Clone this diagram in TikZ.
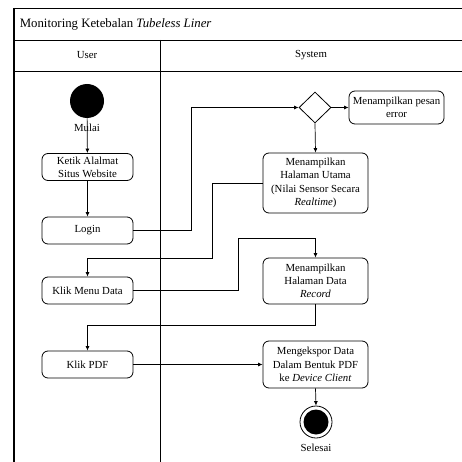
\documentclass[tikz,border=0pt]{standalone}
\usepackage{fontspec}
\setmainfont{Liberation Serif}
\usepackage{tikz}
\usetikzlibrary{arrows.meta,shapes.geometric}
\tikzset{>={Latex[width=4pt,length=4.5pt]}}
\tikzset{
  lane/.style={line width=0.8pt},
  userbox/.style={draw, rounded corners=6pt, line width=0.8pt, minimum width=91pt, minimum height=27pt, align=center, inner sep=1pt},
  sysbox/.style={draw, rounded corners=6pt, line width=0.8pt, minimum width=105pt, align=center, inner sep=1pt},
  flow/.style={->, line width=0.7pt}
}

\begin{document}
\begin{tikzpicture}[x=1pt, y=-1pt]

  \fontsize{10.8}{13.3}\selectfont

  \useasboundingbox (0,0) rectangle (462,462);

  % swimlanes
  \draw[line width=1.6pt] (14,8) -- (14,462);
  \draw[lane] (14,8) -- (462,8);
  \draw[lane] (14,40) -- (462,40);
  \draw[lane] (14,71) -- (462,71);
  \draw[lane] (160,40) -- (160,462);

  \node[anchor=west, font=\fontsize{12.8}{15}\selectfont] (title) at (16,24) {Monitoring Ketebalan \textit{Tubeless Liner}};
  \node (laneU) at (87,55.5) {User};
  \node (laneS) at (311,55.5) {System};

  % start and end
  \node[circle, fill=black, minimum size=34pt, inner sep=0pt] (start) at (87,101) {};
  \node (mulai) at (87,128) {Mulai};

  % user lane
  \node[userbox] (ketik) at (87.5,167) {Ketik Alalmat\\Situs Website};
  \node[userbox] (login) at (87.5,230.5) {Login};
  \node[userbox] (menu) at (87.5,290.5) {Klik Menu Data};
  \node[userbox] (pdf) at (87.5,364.5) {Klik PDF};

  % system lane
  \node[diamond, draw, line width=0.8pt, minimum width=32pt, minimum height=31pt, inner sep=0pt] (dec) at (315,107.5) {};
  \node[draw, rounded corners=6pt, line width=0.8pt, minimum width=95pt, minimum height=33pt, align=center, inner sep=1pt] (err) at (396.5,107.5) {Menampilkan pesan\\error};
  \node[sysbox, minimum height=60pt] (utama) at (315.5,183) {Menampilkan\\Halaman Utama\\(Nilai Sensor Secara\\\textit{Realtime})};
  \node[sysbox, minimum height=46pt] (data) at (315.5,281) {Menampilkan\\Halaman Data\\\textit{Record}};
  \node[sysbox, minimum height=47pt] (ekspor) at (315.5,364.5) {Mengekspor Data\\Dalam Bentuk PDF\\ke \textit{Device Client}};

  \node[circle, draw, line width=0.8pt, fill=white, minimum size=32pt, inner sep=0pt] (end) at (316,422) {};
  \node[circle, fill=black, minimum size=25pt, inner sep=0pt] at (end) {};
  \node (selesai) at (316,448) {Selesai};

  % bends
  \coordinate (b1) at (191,107.5);
  \coordinate (b2) at (212,258);
  \coordinate (b3) at (238,238);
  \coordinate (b4) at (315.5,325);

  % flow
  \draw[flow] (start) -- (ketik);
  \draw[flow] (ketik) -- (login);
  \draw[flow] (login.east) -| (b1) -- (dec.west);
  \draw[flow] (dec.east) -- (err.west);
  \draw[flow] (dec.south) -- (utama.north);
  \draw[flow] (utama.west) -| (b2) -| (menu.north);
  \draw[flow] (menu.east) -| (b3) -| (data.north);
  \draw[flow] (data.south) -- (b4) -| (pdf.north);
  \draw[flow] (pdf.east) -- (ekspor.west);
  \draw[flow] (ekspor.south) -- (end.north);

\end{tikzpicture}
\end{document}
